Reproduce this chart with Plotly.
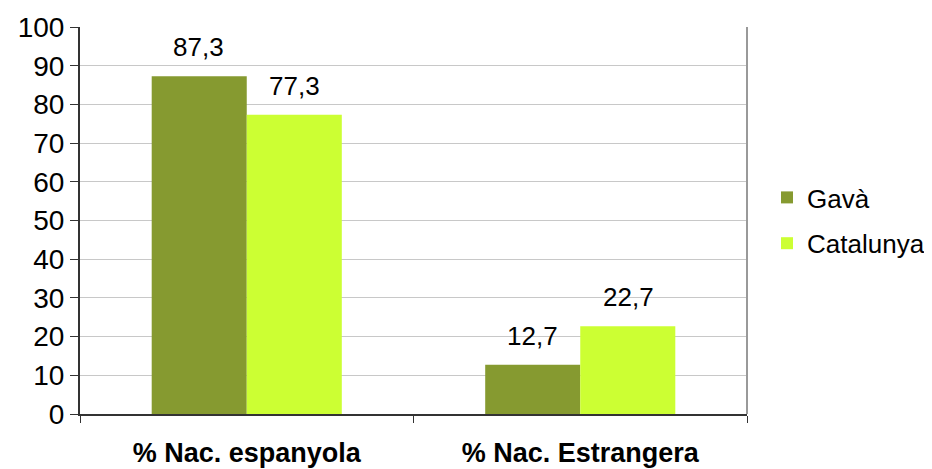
import plotly.graph_objects as go

categories = ["% Nac. espanyola", "% Nac. Estrangera"]
gava = [87.3, 12.7]
catalunya = [77.3, 22.7]
y_ticks = list(range(0, 101, 10))

colors = {"Gavà": "#869a30", "Catalunya": "#ccff33"}
FONT = "Liberation Sans, Arial, sans-serif"

fig = go.Figure()
for name, vals in [("Gavà", gava), ("Catalunya", catalunya)]:
    fig.add_trace(go.Bar(
        x=categories, y=vals, name=name, legendgroup=name,
        marker=dict(color=colors[name], line=dict(width=0)),
    ))

# value labels above bars
for vals, shift in [(gava, -48), (catalunya, 48)]:
    for c, v in zip(categories, vals):
        fig.add_annotation(
            x=c, y=v, text=f"{v:.1f}".replace(".", ","),
            showarrow=False, xshift=shift, yshift=29, yanchor="middle",
            font=dict(size=26, color="black", family=FONT),
        )

fig.update_layout(
    width=924, height=461,
    margin=dict(l=72, r=185, t=19, b=55, autoexpand=False),
    paper_bgcolor="white", plot_bgcolor="white",
    barmode="group", bargap=0.43, bargroupgap=0,
    font=dict(family=FONT, color="black"),
    legend=dict(x=1.03, y=0.5, xanchor="left", yanchor="middle",
                font=dict(size=26), traceorder="grouped", tracegroupgap=9),
)
fig.update_xaxes(
    automargin=False,
    showline=True, linecolor="#333333", linewidth=2,
    ticks="outside", tickson="boundaries", ticklen=7, tickcolor="#333333",
    tickfont=dict(size=27, family=FONT),
    ticklabelstandoff=14,
    tickvals=categories,
    ticktext=[f"<b>{c}</b>" for c in categories],
)
fig.update_yaxes(
    automargin=False,
    range=[0, 100], tickvals=y_ticks,
    showline=True, linecolor="#333333", linewidth=2,
    ticks="outside", ticklen=8, tickcolor="#333333",
    tickfont=dict(size=28, family=FONT),
    showgrid=True, gridcolor="#c8c8c8", gridwidth=1,
    zeroline=False,
)
# right border of plot area
fig.add_shape(type="line", xref="paper", yref="paper", x0=1, x1=1, y0=0, y1=1,
              line=dict(color="#999999", width=2))

fig.write_html("out.html")
